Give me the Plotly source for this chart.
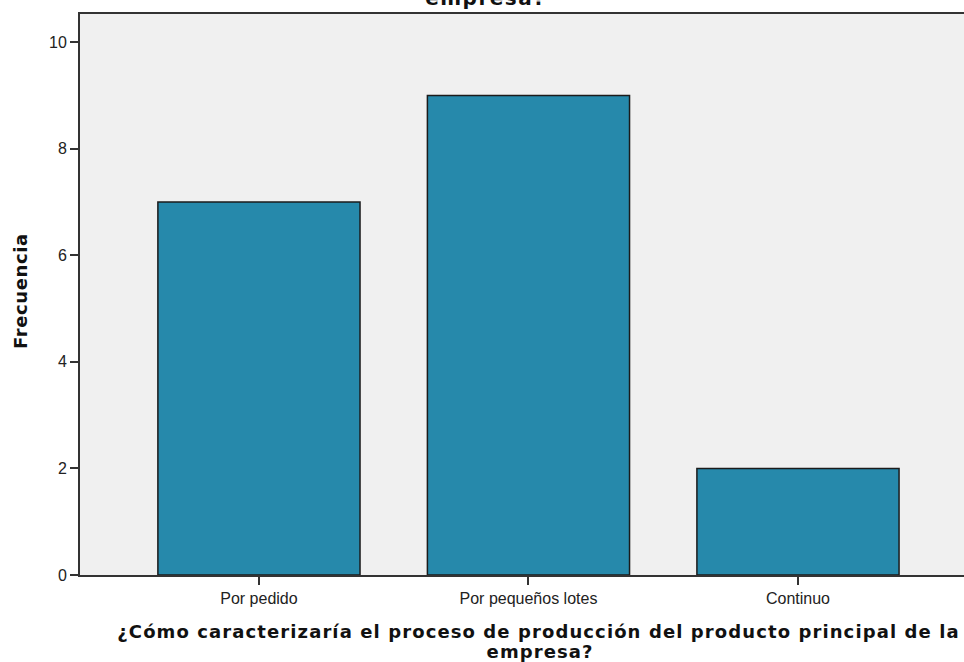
import plotly.graph_objects as go

categories = ["Por pedido", "Por pequeños lotes", "Continuo"]
frequencies = [7, 9, 2]
y_ticks = [0, 2, 4, 6, 8, 10]
title_line1 = "¿Cómo caracterizaría el proceso de producción del producto principal de la"
title_line2 = "empresa?"
y_title = "Frecuencia"

W, H = 964, 662
L, R, T, B = 80, 0, 14, 87
plot_w = W - L - R
plot_h = H - T - B

def px_x(p):
    return (p - L) / plot_w

def px_y(p):
    return (H - B - p) / plot_h

bold_font = dict(family="DejaVu Sans, sans-serif", size=18, color="#111111")

fig = go.Figure()
fig.add_trace(go.Bar(
    x=[0, 1, 2], y=frequencies, width=0.75,
    marker=dict(color="#2689AB", line=dict(color="#1b1b1b", width=1.5)),
    hoverinfo="skip",
))

fig.update_layout(
    width=W, height=H,
    margin=dict(l=L, r=R, t=T, b=B, pad=0),
    paper_bgcolor="white", plot_bgcolor="#F0F0F0",
    showlegend=False,
    font=dict(family="Liberation Sans, Arial, sans-serif", size=16, color="#222222"),
    xaxis=dict(
        range=[-0.664, 2.616], tickmode="array", tickvals=[0, 1, 2], ticktext=categories,
        showgrid=False, zeroline=False, showline=True, linecolor="#333333", linewidth=2,
        mirror=True, ticks="outside", ticklen=8, tickcolor="#333333", tickwidth=1.5,
        tickfont=dict(size=16, color="#222222"),
    ),
    yaxis=dict(
        range=[0, 10.53], tickmode="array", tickvals=y_ticks,
        showgrid=False, zeroline=False, showline=True, linecolor="#333333", linewidth=2,
        ticks="outside", ticklen=8, tickcolor="#333333", tickwidth=1.5,
        tickfont=dict(size=16, color="#222222"),
    ),
    annotations=[
        # chart title (mostly above the visible area, as in the reference)
        dict(text="<b>" + title_line1 + "</b><br><b>" + title_line2 + "</b>",
             xref="paper", yref="paper", x=px_x(486), y=px_y(12),
             xanchor="center", yanchor="bottom", showarrow=False,
             font=dict(family="DejaVu Sans, sans-serif", size=20, color="#111111")),
        # x-axis title, two lines
        dict(text="<b>" + title_line1 + "</b>", xref="paper", yref="paper",
             x=px_x(538), y=px_y(631), xanchor="center", yanchor="middle", showarrow=False,
             font=bold_font),
        dict(text="<b>" + title_line2 + "</b>", xref="paper", yref="paper",
             x=px_x(540), y=px_y(651), xanchor="center", yanchor="middle", showarrow=False,
             font=bold_font),
        # y-axis title
        dict(text="<b>" + y_title + "</b>", xref="paper", yref="paper",
             x=px_x(20), y=px_y(291), xanchor="center", yanchor="middle", textangle=-90,
             showarrow=False, font=bold_font),
    ],
)

post_js = (
    "var sp=['1.5px','1.1px','1.1px','0.6px'];"
    "document.querySelectorAll('g.annotation').forEach(function(g,i){"
    "var t=g.querySelector('.annotation-text'); if(t){t.style.letterSpacing=sp[i]||'1px';}});"
)

fig.write_html("out.html", post_script=post_js)
